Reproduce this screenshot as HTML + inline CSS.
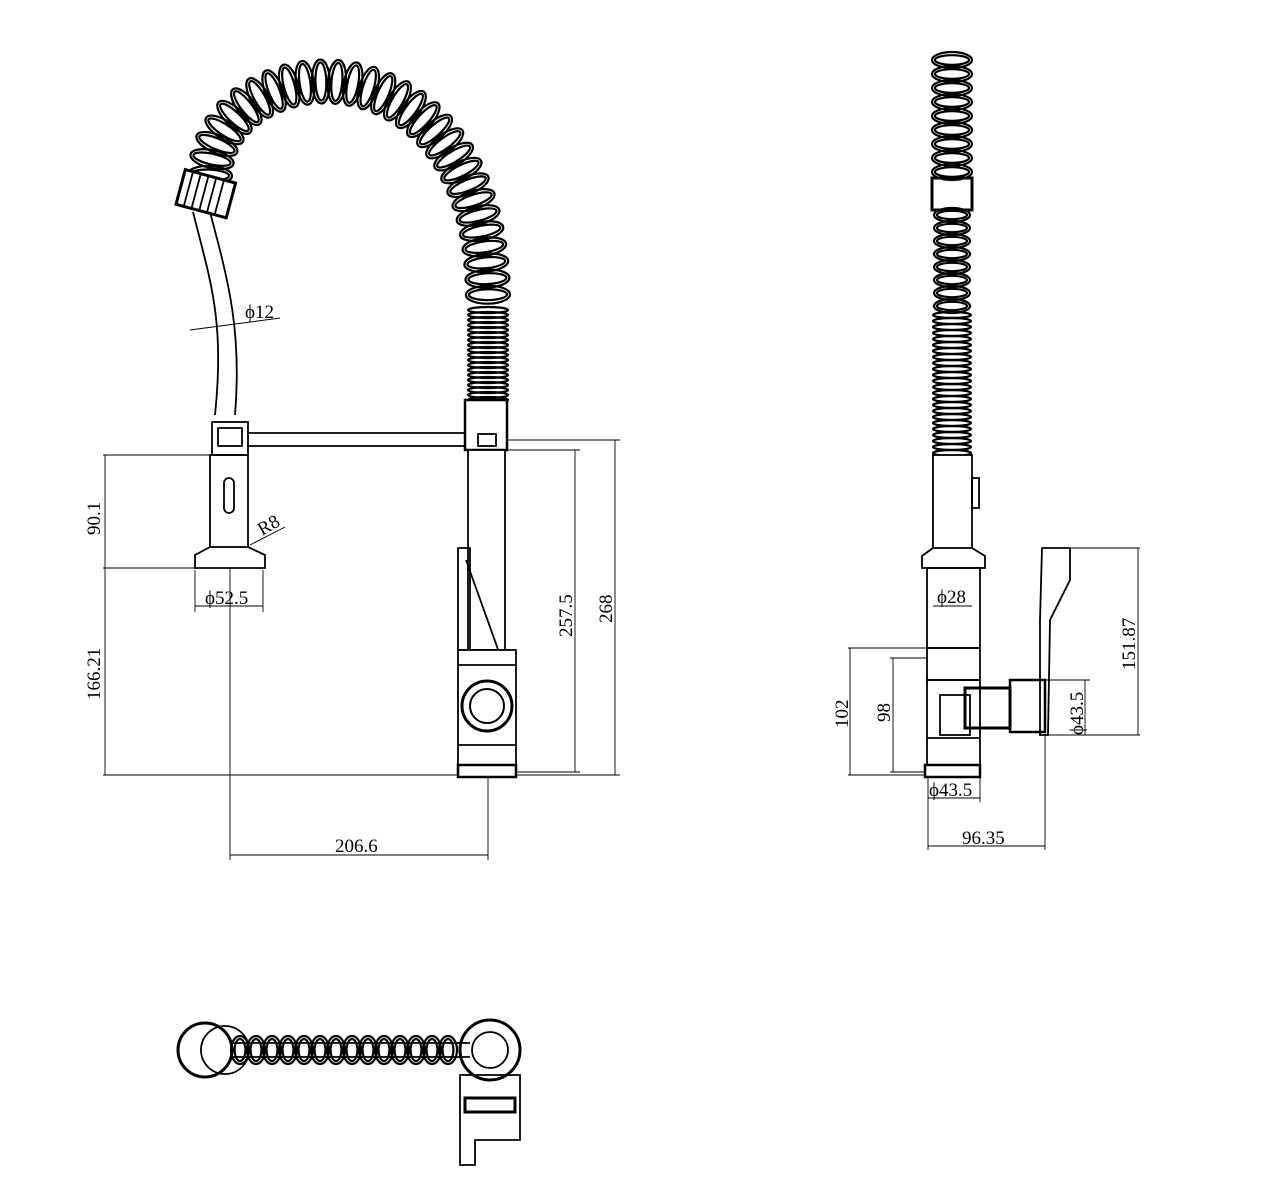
<!DOCTYPE html>
<html><head><meta charset="utf-8"><style>
html,body{margin:0;padding:0;background:#fff}
svg{display:block}
text{font-family:"Liberation Serif",serif;font-size:19px;fill:#000}
</style></head><body>
<svg id="s" width="1271" height="1200" viewBox="0 0 1271 1200" xmlns="http://www.w3.org/2000/svg">
<g id="coils" fill="none" stroke="#000" stroke-width="2.2"></g>
<g fill="none" stroke="#000" stroke-width="1.8">
<g transform="rotate(15 207 193)">
<rect x="180" y="176" width="52" height="36" fill="#fff" stroke-width="3"/>
<line x1="188" y1="176" x2="188" y2="212"/><line x1="196" y1="176" x2="196" y2="212"/><line x1="204" y1="176" x2="204" y2="212"/><line x1="212" y1="176" x2="212" y2="212"/><line x1="220" y1="176" x2="220" y2="212"/>
</g>
<path d="M193 212 C210 280,225 320,215 415"/>
<path d="M210 212 C228 280,242 330,235 415"/>
<line x1="190" y1="330" x2="280" y2="318" stroke-width="1"/>
<rect x="212" y="422" width="36" height="33" fill="#fff"/>
<rect x="218" y="428" width="24" height="18"/>
<line x1="248" y1="433" x2="470" y2="433"/><line x1="248" y1="446" x2="470" y2="446"/>
<rect x="465" y="400" width="42" height="50" fill="#fff" stroke-width="2.5"/>
<rect x="478" y="434" width="18" height="12"/>
<rect x="210" y="455" width="38" height="92"/>
<rect x="224" y="478" width="10" height="35" rx="5"/>
<path d="M210 547 L195 555 L195 568 L265 568 L265 555 L248 547"/>
<rect x="468" y="450" width="37" height="200" fill="#fff"/>
<rect x="458" y="548" width="12" height="102"/>
<line x1="466" y1="560" x2="500" y2="655"/>
<rect x="458" y="650" width="58" height="115" fill="#fff"/>
<line x1="458" y1="665" x2="516" y2="665"/><line x1="458" y1="745" x2="516" y2="745"/>
<circle cx="487" cy="706" r="25" stroke-width="3"/>
<circle cx="487" cy="706" r="17" stroke-width="2"/>
<rect x="458" y="765" width="58" height="12" stroke-width="2.5"/>
</g>
<g fill="none" stroke="#000" stroke-width="0.9">
<line x1="103" y1="455" x2="210" y2="455"/><line x1="103" y1="568" x2="210" y2="568"/><line x1="103" y1="775" x2="458" y2="775"/>
<line x1="105" y1="455" x2="105" y2="775"/>
<line x1="230" y1="568" x2="230" y2="860"/><line x1="488" y1="777" x2="488" y2="860"/>
<line x1="230" y1="855" x2="488" y2="855"/>
<line x1="195" y1="570" x2="195" y2="612"/><line x1="263" y1="570" x2="263" y2="612"/><line x1="195" y1="606" x2="263" y2="606"/>
<line x1="505" y1="450" x2="580" y2="450"/><line x1="516" y1="772" x2="580" y2="772"/><line x1="575" y1="450" x2="575" y2="772"/>
<line x1="507" y1="440" x2="620" y2="440"/><line x1="516" y1="775" x2="620" y2="775"/><line x1="615" y1="440" x2="615" y2="775"/>
<line x1="250" y1="545" x2="285" y2="527"/>
</g>
<text x="245" y="318">ϕ12</text>
<text x="205" y="604">ϕ52.5</text>
<text x="335" y="852">206.6</text>
<text transform="translate(262 536) rotate(-30)">R8</text>
<text transform="translate(100 535) rotate(-90)">90.1</text>
<text transform="translate(100 700) rotate(-90)">166.21</text>
<text transform="translate(572 637) rotate(-90)">257.5</text>
<text transform="translate(612 623) rotate(-90)">268</text>
<g fill="none" stroke="#000" stroke-width="1.8">
<rect x="932" y="178" width="40" height="32" stroke-width="3"/>
<rect x="933" y="455" width="39" height="93" fill="#fff"/>
<rect x="972" y="478" width="7" height="30"/>
<path d="M933 548 L922 556 L922 568 L985 568 L985 556 L972 548"/>
<rect x="927" y="568" width="53" height="80"/>
<rect x="927" y="648" width="53" height="32"/>
<rect x="927" y="680" width="53" height="85"/>
<line x1="927" y1="738" x2="980" y2="738"/>
<rect x="925" y="765" width="55" height="12" stroke-width="2.5"/>
<rect x="940" y="695" width="30" height="40"/>
<rect x="965" y="688" width="45" height="40" stroke-width="3"/>
<rect x="1010" y="680" width="35" height="52" stroke-width="2.5"/>
<path d="M1042 548 L1070 548 L1070 580 L1050 620 L1048 735 L1040 735 L1040 620 L1042 548 Z"/>
</g>
<g fill="none" stroke="#000" stroke-width="0.9">
<line x1="848" y1="648" x2="927" y2="648"/><line x1="848" y1="775" x2="925" y2="775"/><line x1="850" y1="648" x2="850" y2="775"/>
<line x1="890" y1="658" x2="927" y2="658"/><line x1="890" y1="772" x2="925" y2="772"/><line x1="893" y1="658" x2="893" y2="772"/>
<line x1="1070" y1="548" x2="1140" y2="548"/><line x1="1048" y1="735" x2="1140" y2="735"/><line x1="1138" y1="548" x2="1138" y2="735"/>
<line x1="1045" y1="680" x2="1090" y2="680"/><line x1="1085" y1="680" x2="1085" y2="735"/>
<line x1="933" y1="606" x2="972" y2="606"/>
<line x1="928" y1="778" x2="928" y2="850"/><line x1="980" y1="778" x2="980" y2="802"/><line x1="928" y1="798" x2="980" y2="798"/>
<line x1="1045" y1="735" x2="1045" y2="850"/><line x1="928" y1="846" x2="1045" y2="846"/>
</g>
<text x="937" y="603">ϕ28</text>
<text x="929" y="796">ϕ43.5</text>
<text x="962" y="844">96.35</text>
<text transform="translate(848 728) rotate(-90)">102</text>
<text transform="translate(890 722) rotate(-90)">98</text>
<text transform="translate(1135 670) rotate(-90)">151.87</text>
<text transform="translate(1083 735) rotate(-90)">ϕ43.5</text>
<g fill="none" stroke="#000" stroke-width="1.8">
<circle cx="205" cy="1050" r="27" stroke-width="3"/><circle cx="225" cy="1050" r="24"/>
<line x1="230" y1="1043" x2="470" y2="1043"/><line x1="230" y1="1057" x2="470" y2="1057"/>
<circle cx="490" cy="1050" r="30" stroke-width="3"/><circle cx="490" cy="1050" r="18"/>
<path d="M460 1075 L520 1075 L520 1140 L475 1140 L475 1165 L460 1165 Z"/>
<rect x="465" y="1098" width="50" height="14" stroke-width="3"/>
</g>
<script>
(function(){
var NS="http://www.w3.org/2000/svg",g=document.getElementById('coils');
function coilsAlong(d,step,w,ry,tight){
 var p=document.createElementNS(NS,'path');p.setAttribute('d',d);g.appendChild(p);p.setAttribute('stroke','none');
 var L=p.getTotalLength();
 for(var s=0;s<=L;s+=step){
  var a=p.getPointAtLength(s),b=p.getPointAtLength(Math.min(L,s+1)),c=p.getPointAtLength(Math.max(0,s-1));
  var ang=Math.atan2(b.y-c.y,b.x-c.x)*180/Math.PI;
  var e=document.createElementNS(NS,'ellipse');
  e.setAttribute('cx',a.x);e.setAttribute('cy',a.y);e.setAttribute('rx',ry);e.setAttribute('ry',w);
  e.setAttribute('transform','rotate('+ang+' '+a.x+' '+a.y+')');g.appendChild(e);
  if(!tight){var e2=e.cloneNode();e2.setAttribute('rx',ry*0.6);e2.setAttribute('ry',w-3);g.appendChild(e2);}
 }
}
coilsAlong("M210 175 C215 45,488 20,488 300",16,22,9,false);
coilsAlong("M488 310 L488 400",5,20,3,true);
coilsAlong("M952 60 L952 175",14,20,8,false);
coilsAlong("M952 215 L952 310",13,18,7,false);
coilsAlong("M952 315 L952 455",6,19,3,true);
coilsAlong("M240 1050 L460 1050",16,14,9,false);
})();
</script>
</svg>
</body></html>
